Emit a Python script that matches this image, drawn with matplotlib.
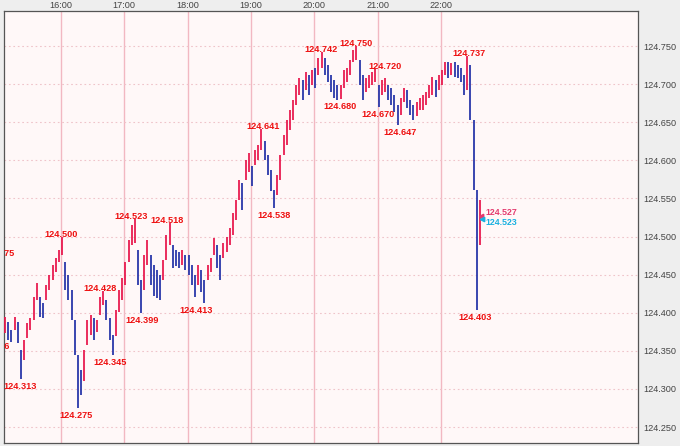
import matplotlib
matplotlib.use("Agg")
import matplotlib.pyplot as plt
from matplotlib.ticker import FixedLocator, FuncFormatter

# ---------------- data ----------------
# 3-minute bars, time in minutes after 15:00 (first bar 15:07)
bar_start = 7
bar_step = 3
bar_lows = [
    124.373, 124.364, 124.361, 124.377, 124.360, 124.313, 124.338, 124.367, 124.377, 124.390,
    124.417, 124.394, 124.393, 124.417, 124.430, 124.443, 124.453, 124.466, 124.476, 124.430,
    124.417, 124.390, 124.345, 124.275, 124.292, 124.311, 124.358, 124.371, 124.364, 124.375,
    124.397, 124.410, 124.390, 124.364, 124.345, 124.370, 124.401, 124.417, 124.437, 124.467,
    124.489, 124.492, 124.436, 124.399, 124.430, 124.463, 124.436, 124.422, 124.419, 124.417,
    124.443, 124.469, 124.489, 124.459, 124.461, 124.459, 124.463, 124.456, 124.449, 124.436,
    124.420, 124.436, 124.427, 124.413, 124.443, 124.453, 124.476, 124.459, 124.443, 124.472,
    124.480, 124.489, 124.502, 124.522, 124.548, 124.535, 124.574, 124.585, 124.566, 124.594,
    124.600, 124.613, 124.600, 124.581, 124.560, 124.538, 124.554, 124.574, 124.607, 124.620,
    124.640, 124.653, 124.673, 124.686, 124.679, 124.692, 124.686, 124.699, 124.695, 124.712,
    124.721, 124.712, 124.703, 124.690, 124.682, 124.679, 124.680, 124.695, 124.703, 124.712,
    124.729, 124.732, 124.699, 124.679, 124.690, 124.695, 124.699, 124.703, 124.670, 124.686,
    124.690, 124.679, 124.673, 124.663, 124.647, 124.659, 124.677, 124.669, 124.659, 124.653,
    124.658, 124.666, 124.666, 124.673, 124.682, 124.686, 124.683, 124.692, 124.699, 124.712,
    124.708, 124.712, 124.709, 124.708, 124.703, 124.686, 124.692, 124.653, 124.561, 124.403,
    124.489,
]
bar_highs = [
    124.394, 124.388, 124.377, 124.394, 124.388, 124.351, 124.364, 124.386, 124.393, 124.420,
    124.439, 124.420, 124.413, 124.436, 124.450, 124.463, 124.472, 124.482, 124.500, 124.467,
    124.450, 124.430, 124.390, 124.345, 124.325, 124.351, 124.390, 124.397, 124.393, 124.390,
    124.420, 124.428, 124.417, 124.393, 124.371, 124.403, 124.430, 124.445, 124.467, 124.495,
    124.515, 124.523, 124.482, 124.443, 124.476, 124.495, 124.476, 124.463, 124.456, 124.450,
    124.469, 124.502, 124.518, 124.489, 124.482, 124.480, 124.482, 124.476, 124.476, 124.463,
    124.449, 124.463, 124.456, 124.443, 124.463, 124.472, 124.498, 124.489, 124.476, 124.492,
    124.499, 124.511, 124.531, 124.548, 124.574, 124.570, 124.600, 124.610, 124.593, 124.613,
    124.620, 124.641, 124.626, 124.607, 124.587, 124.561, 124.581, 124.607, 124.633, 124.653,
    124.666, 124.679, 124.699, 124.708, 124.705, 124.716, 124.712, 124.718, 124.721, 124.734,
    124.742, 124.734, 124.725, 124.712, 124.705, 124.699, 124.699, 124.718, 124.721, 124.732,
    124.745, 124.750, 124.732, 124.712, 124.708, 124.712, 124.716, 124.720, 124.699, 124.705,
    124.708, 124.699, 124.695, 124.686, 124.673, 124.682, 124.695, 124.692, 124.679, 124.673,
    124.676, 124.682, 124.686, 124.690, 124.699, 124.709, 124.705, 124.712, 124.718, 124.729,
    124.729, 124.728, 124.729, 124.725, 124.721, 124.712, 124.737, 124.725, 124.653, 124.561,
    124.548,
]
bar_times = [bar_start + bar_step * i for i in range(len(bar_lows))]

# high / low annotations: (time in minutes after 15:00, price, kind)
label_times = [0.8, -4.0, 21.6, 60.0, 74.7, 97.0, 106.4, 126.4, 136.8, 161.0,
               188.0, 251.5, 261.9, 306.4, 339.6, 324.5, 367.1, 360.5, 381.3,
               446.7, 452.4]
label_prices = [124.475, 124.366, 124.313, 124.500, 124.275, 124.428, 124.345, 124.523,
                124.399, 124.518, 124.413, 124.641, 124.538, 124.742, 124.750, 124.680,
                124.720, 124.670, 124.647, 124.737, 124.403]
label_kinds = ["H", "L", "L", "H", "L", "H", "L", "H", "L", "H", "L", "H", "L",
               "H", "H", "L", "H", "L", "L", "H", "L"]

ask_price = 124.527
bid_price = 124.523
quote_time = 458.0

hour_ticks = [60, 120, 180, 240, 300, 360, 420]
price_ticks = [124.250, 124.300, 124.350, 124.400, 124.450, 124.500,
               124.550, 124.600, 124.650, 124.700, 124.750]

# ---------------- style ----------------
plt.rcParams["font.family"] = ["Liberation Sans", "DejaVu Sans"]
RED = "#e8164c"
BLUE = "#2433a8"
LABEL_RED = "#ee1111"

fig = plt.figure(figsize=(6.8, 4.46), dpi=100, facecolor="#eeeeee")
ax = fig.add_axes([4 / 680, 3 / 446, (637.7 - 4) / 680, (443 - 11) / 446])
ax.set_facecolor("#fff8f8")

ax.set_xlim(6.0, 606.6)
ax.set_ylim(124.229, 124.796)

# grid
for t in hour_ticks:
    ax.axvline(t, color="#f2b8c2", lw=1.0, zorder=1)
for p in price_ticks:
    ax.axhline(p, color="#efc4ca", lw=0.8, ls=(0, (1.5, 2.5)), zorder=1)

# bars
mids = [(lo + hi) / 2 for lo, hi in zip(bar_lows, bar_highs)]
colors = []
for i, m in enumerate(mids):
    prev = mids[i - 1] if i > 0 else m
    colors.append(RED if m >= prev else BLUE)
ax.vlines(bar_times, bar_lows, bar_highs, colors=colors, lw=1.4, alpha=0.9, zorder=3)

# high / low labels
for t, p, k in zip(label_times, label_prices, label_kinds):
    dy = 1.8 if k == "H" else -5.4
    ax.annotate(f"{p:.3f}", xy=(t, p), xytext=(0, dy), textcoords="offset points",
                ha="center", va="center", fontsize=6.6, fontweight="bold",
                color=LABEL_RED, annotation_clip=False, clip_on=True, zorder=5)

# current bid / ask markers
ax.plot([quote_time], [ask_price], marker="<", ms=3.2, color="#e43a6e", zorder=6, clip_on=False)
ax.plot([quote_time + 0.8], [bid_price], marker="<", ms=3.2, color="#18b0e0", zorder=6, clip_on=False)
ax.annotate(f"{ask_price:.3f}", xy=(quote_time, ask_price), xytext=(3.5, 2.4),
            textcoords="offset points", ha="left", va="center", fontsize=6.3,
            fontweight="bold", color="#e43a6e", zorder=6)
ax.annotate(f"{bid_price:.3f}", xy=(quote_time, bid_price), xytext=(3.5, -2.4),
            textcoords="offset points", ha="left", va="center", fontsize=6.3,
            fontweight="bold", color="#18b0e0", zorder=6)

# axes / ticks
ax.xaxis.set_major_locator(FixedLocator(hour_ticks))
ax.xaxis.set_major_formatter(FuncFormatter(lambda v, pos: f"{15 + int(v) // 60}:00"))
ax.xaxis.tick_top()
ax.tick_params(axis="x", length=0, pad=0.5, labelsize=6.6, labelcolor="#444444")

ax.yaxis.set_major_locator(FixedLocator(price_ticks))
ax.yaxis.set_major_formatter(FuncFormatter(lambda v, pos: f"{v:.3f}"))
ax.yaxis.tick_right()
ax.tick_params(axis="y", length=0, pad=4, labelsize=6.6, labelcolor="#444444")

for s in ax.spines.values():
    s.set_color("#555555")
    s.set_linewidth(0.9)

fig.savefig("out.png", dpi=100, facecolor=fig.get_facecolor())
